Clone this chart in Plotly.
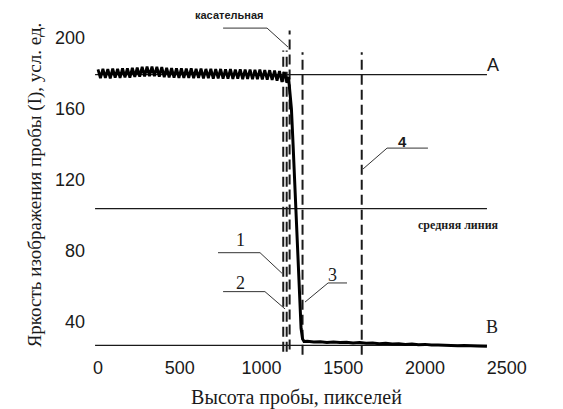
import plotly.graph_objects as go

# ---------------- data ----------------
# plateau (bright part of the sample), oscillating around level A
plateau_x = [0, 15, 30, 45, 60, 75, 90, 105, 120, 135, 150, 165, 180, 195, 210, 225,
             240, 255, 270, 285, 300, 315, 330, 345, 360, 375, 390, 405, 420, 435, 450,
             465, 480, 495, 510, 525, 540, 555, 570, 585, 600, 615, 630, 645, 660, 675,
             690, 705, 720, 735, 750, 765, 780, 795, 810, 825, 840, 855, 870, 885, 900,
             915, 930, 945, 960, 975, 990, 1005, 1020, 1035, 1050, 1065, 1080, 1095,
             1110, 1125, 1140, 1155]
plateau_y = [182.3, 177.3, 182.5, 177.5, 182.4, 177.2, 182.7, 177.6, 182.6, 177.4,
             182.9, 177.7, 182.8, 177.6, 183.1, 178.0, 183.3, 178.2, 183.7, 178.3,
             183.8, 178.5, 183.9, 178.4, 183.7, 178.2, 183.5, 177.9, 183.2, 177.7,
             183.0, 177.6, 182.9, 177.5, 182.8, 177.4, 182.7, 177.5, 182.8, 177.3,
             182.6, 177.4, 182.7, 177.2, 182.5, 177.3, 182.6, 177.1, 182.4, 177.2,
             182.5, 177.0, 182.3, 177.1, 182.4, 176.9, 182.2, 177.0, 182.3, 176.8,
             182.1, 176.9, 182.2, 176.7, 182.0, 176.8, 182.1, 176.6, 181.9, 176.5,
             181.8, 176.3, 181.6, 175.9, 181.3, 175.2, 180.8, 174.7]
# steep drop (boundary between the phases)
drop_x = [1165, 1172, 1177, 1183, 1193, 1202, 1211, 1217, 1223, 1229, 1235, 1242, 1251, 1260]
drop_y = [178.0, 172.0, 168.0, 160.0, 140.0, 120.0, 104.0, 90.0, 75.0, 60.0, 45.0, 36.0, 30.0, 28.5]
# dark tail near level B
tail_x = [1280, 1320, 1360, 1400, 1440, 1480, 1520, 1560, 1600, 1640, 1680, 1720, 1760,
          1800, 1840, 1880, 1920, 1960, 2000, 2040, 2080, 2120, 2160, 2200, 2240, 2280,
          2320, 2379]
tail_y = [28.6, 28.2, 28.4, 28.0, 28.3, 27.9, 28.1, 27.7, 27.9, 27.5, 27.7, 27.3, 27.5,
          27.1, 27.3, 26.9, 27.1, 26.7, 26.9, 26.5, 26.6, 26.3, 26.4, 26.1, 26.2, 25.9,
          26.0, 25.8]

# horizontal reference levels
level_labels = ["A", "средняя линия", "B"]
level_values = [179.3, 103.6, 26.3]
level_start = -18
level_end = 2379

# vertical dashed markers: 1, 2, tangent, 3, 4
marker_names = ["1", "2", "касательная", "3", "4"]
marker_x = [1133, 1154, 1172, 1251, 1613]
marker_top = [193.0, 193.0, 204.3, 192.0, 192.0]
marker_bottom = [22.8, 22.8, 24.0, 21.0, 21.0]

x_ticks = [0, 500, 1000, 1500, 2000, 2500]
y_ticks = [40, 80, 120, 160, 200]

# ---------------- figure ----------------
INK = "#1a1a1a"
SERIF = "Liberation Serif, Times New Roman, serif"
SANS = "Liberation Sans, Arial, sans-serif"

fig = go.Figure()

# reference levels
for val in level_values:
    fig.add_trace(go.Scatter(x=[level_start, level_end], y=[val, val], mode="lines",
                             line=dict(color=INK, width=1.2), showlegend=False,
                             hoverinfo="skip"))

# vertical dashed markers
for name, mx, top, bot in zip(marker_names, marker_x, marker_top, marker_bottom):
    fig.add_trace(go.Scatter(x=[mx, mx], y=[bot, top], mode="lines", name=name,
                             line=dict(color=INK, width=2, dash="10px,5px"),
                             showlegend=False, hoverinfo="skip"))

# brightness profile
fig.add_trace(go.Scatter(x=plateau_x + drop_x[:1], y=plateau_y + drop_y[:1], mode="lines",
                         line=dict(color="#000", width=2.8), showlegend=False))
fig.add_trace(go.Scatter(x=drop_x + tail_x, y=drop_y + tail_y, mode="lines",
                         line=dict(color="#000", width=3), showlegend=False))

# callout leader lines (label -> marker)
leaders = [
    ([765, 1034, 1162], [205.6, 205.6, 194.9]),   # касательная
    ([734, 991, 1125], [78.7, 78.7, 67.1]),        # 1
    ([765, 1021, 1144], [56.7, 56.7, 46.9]),       # 2
    ([1523, 1407, 1266], [61.6, 61.6, 50.8]),      # 3
    ([2018, 1768, 1621], [137.8, 137.8, 126.0]),   # 4
]
for lx, ly in leaders:
    fig.add_trace(go.Scatter(x=lx, y=ly, mode="lines", line=dict(color="#333", width=1),
                             showlegend=False, hoverinfo="skip", cliponaxis=False))

annos = [
    dict(x=801, y=213.0, text="<b>касательная</b>", font=dict(family=SANS, size=11, color=INK)),
    dict(x=869, y=85.8, text="1", font=dict(family=SERIF, size=18, color=INK)),
    dict(x=869, y=61.6, text="2", font=dict(family=SERIF, size=18, color=INK)),
    dict(x=1437, y=66.1, text="3", font=dict(family=SERIF, size=18, color=INK)),
    dict(x=1865, y=141.5, text="<b>4</b>", font=dict(family=SANS, size=15, color=INK)),
    dict(x=2416, y=184.7, text=level_labels[0], font=dict(family=SANS, size=18, color=INK)),
    dict(x=2202, y=94.4, text="<b>" + level_labels[1] + "</b>",
         font=dict(family=SERIF, size=12, color=INK)),
    dict(x=2410, y=36.7, text=level_labels[2], font=dict(family=SERIF, size=18, color=INK)),
]
for a in annos:
    fig.add_annotation(xref="x", yref="y", showarrow=False, **a)

fig.update_layout(
    width=563, height=409,
    margin=dict(l=86, r=56, t=15, b=54),
    plot_bgcolor="white", paper_bgcolor="white",
    showlegend=False,
    xaxis=dict(range=[-73.4, 2501.5], tickvals=x_ticks, showgrid=False, zeroline=False,
               showline=False, ticks="", automargin=False,
               tickfont=dict(family=SANS, size=18, color=INK),
               title=dict(text="Высота пробы, пикселей",
                          font=dict(family=SERIF, size=20, color=INK), standoff=17)),
    yaxis=dict(range=[20.9, 213.0], tickvals=y_ticks, showgrid=False, zeroline=False,
               showline=False, ticks="", automargin=False,
               tickfont=dict(family=SANS, size=18, color=INK),
               title=dict(text="Яркость изображения пробы (I), усл. ед.",
                          font=dict(family=SERIF, size=19, color=INK), standoff=8)),
)

fig.write_html("out.html", config={"displayModeBar": False},
               post_script="document.body.style.margin='0';document.body.style.overflow='hidden';")
